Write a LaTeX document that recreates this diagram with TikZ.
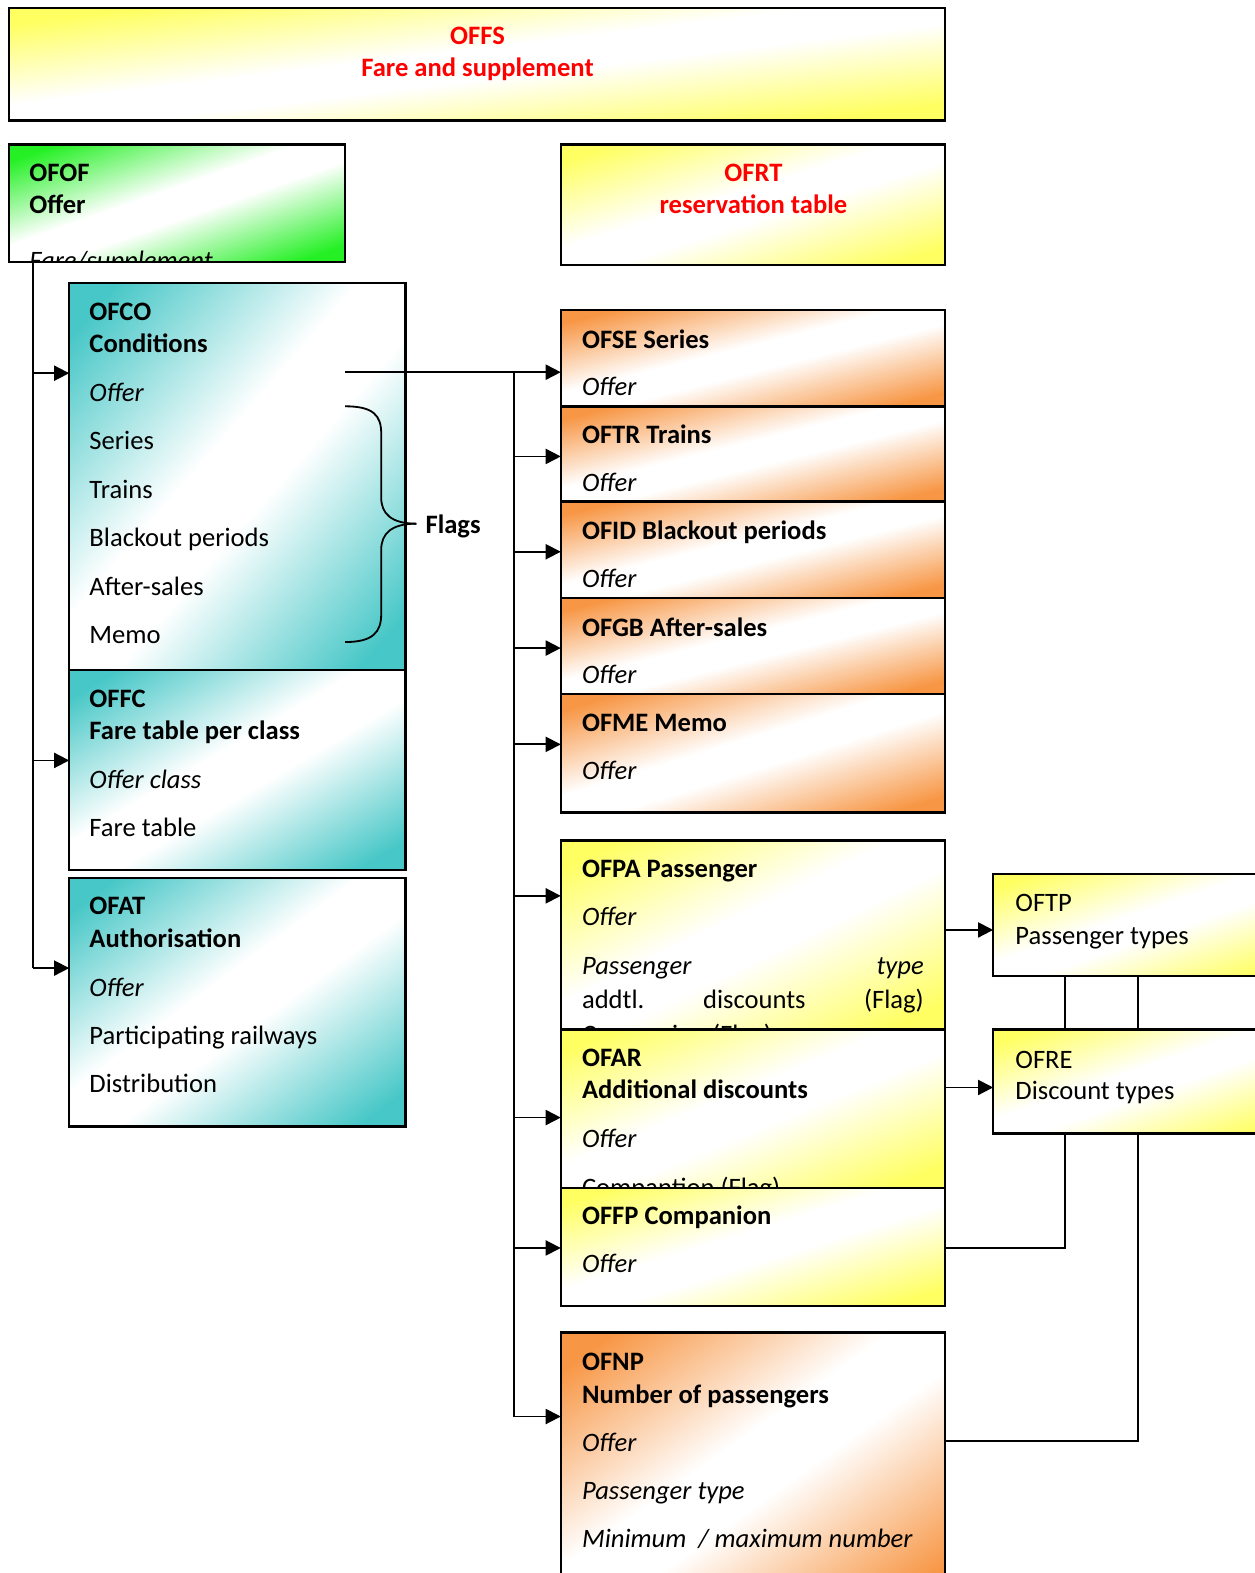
\documentclass[tikz,border=0pt]{standalone}
\usepackage{fontspec}
\setmainfont{Carlito}
\usetikzlibrary{arrows.meta}
\definecolor{cR}{RGB}{255,0,0}
% functional shadings: colour at top-left and bottom-right corners, white along the anti-diagonal
% path occupies 25..75 bp in x and y; d = |x-y|/100 in [0,0.5]
\pgfdeclarefunctionalshading{fsY}{\pgfpoint{0bp}{0bp}}{\pgfpoint{100bp}{100bp}}{}{
  sub abs 100 div 0.07 sub 0.36 div
  dup 0 lt {pop 0} if dup 1 gt {pop 1} if
  dup 0.0 mul 1 exch sub exch
  dup 0.0 mul 1 exch sub exch
  0.62 mul 1 exch sub
}
\pgfdeclarefunctionalshading{fsG}{\pgfpoint{0bp}{0bp}}{\pgfpoint{100bp}{100bp}}{}{
  sub abs 100 div 0.07 sub 0.36 div
  dup 0 lt {pop 0} if dup 1 gt {pop 1} if
  dup 0.86 mul 1 exch sub exch
  dup 0.06 mul 1 exch sub exch
  0.86 mul 1 exch sub
}
\pgfdeclarefunctionalshading{fsT}{\pgfpoint{0bp}{0bp}}{\pgfpoint{100bp}{100bp}}{}{
  sub abs 100 div 0.07 sub 0.36 div
  dup 0 lt {pop 0} if dup 1 gt {pop 1} if
  dup 0.72 mul 1 exch sub exch
  dup 0.22 mul 1 exch sub exch
  0.22 mul 1 exch sub
}
\pgfdeclarefunctionalshading{fsO}{\pgfpoint{0bp}{0bp}}{\pgfpoint{100bp}{100bp}}{}{
  sub abs 100 div 0.07 sub 0.36 div
  dup 0 lt {pop 0} if dup 1 gt {pop 1} if
  dup 0.03 mul 1 exch sub exch
  dup 0.41 mul 1 exch sub exch
  0.73 mul 1 exch sub
}
\tikzset{
  box/.style={draw=black, line width=2.5pt, anchor=north west, inner sep=0pt, outer sep=0pt, shade},
  yb/.style={box, shading=fsY},
  gb/.style={box, shading=fsG},
  tb/.style={box, shading=fsT},
  ob/.style={box, shading=fsO},
  txt/.style={anchor=base west, inner sep=0pt, font=\fontsize{26.5}{30}\selectfont},
  txb/.style={txt, font=\fontsize{26.5}{30}\selectfont\bfseries},
  txi/.style={txt, font=\fontsize{26.5}{30}\selectfont\itshape},
  txr/.style={anchor=base, inner sep=0pt, text=cR, font=\fontsize{26.5}{30}\selectfont\bfseries},
  conn/.style={line width=1.8pt},
  arr/.style={line width=1.8pt, -{Triangle[length=15pt,width=15pt]}},
}
\begin{document}
\begin{tikzpicture}[x=1pt,y=1pt]
\useasboundingbox (0,0) rectangle (1251,-1568);
\clip (0,0) rectangle (1251,-1568);

% ---------- OFFS ----------
\node[yb, minimum width=933pt, minimum height=112pt] (offs) at (9,-8) {};
\node[txr] (offs1) at (476,-44) {OFFS};
\node[txr] (offs2) at (476,-76) {Fare and supplement};

% ---------- OFOF ----------
\node[gb, minimum width=335pt, minimum height=117pt] (ofof) at (9,-144) {};
\node[txb] (ofof1) at (29,-181) {OFOF};
\node[txb] (ofof2) at (29,-213) {Offer};
\begin{scope}
\clip ([shift={(1.3,1.3)}]ofof.south west) rectangle ([shift={(-1.3,-1.3)}]ofof.north east);
\node[txi] (ofof3) at (29,-269) {Fare/supplement};
\end{scope}

% ---------- OFRT ----------
\node[yb, minimum width=383pt, minimum height=120pt] (ofrt) at (559,-144) {};
\node[txr] (ofrt1) at (751,-181) {OFRT};
\node[txr] (ofrt2) at (751,-213) {reservation table};

% ---------- OFCO ----------
\node[tb, minimum width=335pt, minimum height=386pt] (ofco) at (69,-282) {};
\node[txb] (ofco1) at (89,-319) {OFCO};
\node[txb] (ofco2) at (89,-351) {Conditions};
\node[txi] (ofco3) at (89,-400) {Offer};
\node[txt] (ofco4) at (89,-448) {Series};
\node[txt] (ofco5) at (89,-497) {Trains};
\node[txt] (ofco6) at (89,-545) {Blackout periods};
\node[txt] (ofco7) at (89,-594) {After-sales};
\node[txt] (ofco8) at (89,-641) {Memo};

% ---------- OFFC ----------
\node[tb, minimum width=335pt, minimum height=199pt] (offc) at (69,-668) {};
\node[txb] (offc1) at (89,-705) {OFFC};
\node[txb] (offc2) at (89,-737) {Fare table per class};
\node[txi] (offc3) at (89,-786) {Offer class};
\node[txt] (offc4) at (89,-834) {Fare table};

% ---------- OFAT ----------
\node[tb, minimum width=335pt, minimum height=248pt] (ofat) at (69,-875) {};
\node[txb] (ofat1) at (89,-912) {OFAT};
\node[txb] (ofat2) at (89,-944) {Authorisation};
\node[txi] (ofat3) at (89,-993) {Offer};
\node[txt] (ofat4) at (89,-1041) {Participating railways};
\node[txt] (ofat5) at (89,-1089) {Distribution};

% ---------- brace + Flags ----------
\draw[conn] (344,-405) .. controls (372,-405) and (380,-414) .. (380,-432) -- (380,-496)
  .. controls (380,-512) and (390,-522) .. (415,-522);
\draw[conn] (415,-522) .. controls (390,-522) and (380,-532) .. (380,-548) -- (380,-612)
  .. controls (380,-630) and (372,-640) .. (344,-640);
\node[txb] (flags) at (424,-532) {Flags};

% ---------- orange column ----------
\node[ob, minimum width=383pt, minimum height=96pt] (ofse) at (559,-309) {};
\node[txb] (ofse1) at (580,-347) {OFSE Series};
\node[txi] (ofse2) at (580,-394) {Offer};

\node[ob, minimum width=383pt, minimum height=95pt] (oftr) at (559,-405) {};
\node[txb] (oftr1) at (580,-442) {OFTR Trains};
\node[txi] (oftr2) at (580,-490) {Offer};

\node[ob, minimum width=383pt, minimum height=96pt] (ofid) at (559,-500) {};
\node[txb] (ofid1) at (580,-538) {OFID Blackout periods};
\node[txi] (ofid2) at (580,-586) {Offer};

\node[ob, minimum width=383pt, minimum height=96pt] (ofgb) at (559,-596) {};
\node[txb] (ofgb1) at (580,-634) {OFGB After-sales};
\node[txi] (ofgb2) at (580,-681) {Offer};

\node[ob, minimum width=383pt, minimum height=118pt] (ofme) at (559,-692) {};
\node[txb] (ofme1) at (580,-729) {OFME Memo};
\node[txi] (ofme2) at (580,-777) {Offer};

% ---------- yellow column ----------
\node[yb, minimum width=383pt, minimum height=188pt] (ofpa) at (559,-838) {};
\node[txb] (ofpa1) at (580,-875) {OFPA Passenger};
\node[txi] (ofpa2) at (580,-923) {Offer};
\node[txi] (ofpa3) at (580,-971) {Passenger};
\node[txi, anchor=base east] (ofpa4) at (921,-971) {type};
\node[txt] (ofpa5) at (580,-1005) {addtl.};
\node[txt, anchor=base] (ofpa6) at (752,-1005) {discounts};
\node[txt, anchor=base east] (ofpa7) at (921,-1005) {(Flag)};
\begin{scope}
\clip ([shift={(1.3,1.3)}]ofpa.south west) rectangle ([shift={(-1.3,-1.3)}]ofpa.north east);
\node[txt] (ofpa8) at (580,-1040) {Companion (Flag)};
\end{scope}

\node[yb, minimum width=383pt, minimum height=158pt] (ofar) at (559,-1026) {};
\node[txb] (ofar1) at (580,-1063) {OFAR};
\node[txb] (ofar2) at (580,-1095) {Additional discounts};
\node[txi] (ofar3) at (580,-1144) {Offer};
\begin{scope}
\clip ([shift={(1.3,1.3)}]ofar.south west) rectangle ([shift={(-1.3,-1.3)}]ofar.north east);
\node[txt] (ofar4) at (580,-1193) {Compantion (Flag)};
\end{scope}

\node[yb, minimum width=383pt, minimum height=118pt] (offp) at (559,-1184) {};
\node[txb] (offp1) at (580,-1221) {OFFP Companion};
\node[txi] (offp2) at (580,-1268) {Offer};

\node[ob, minimum width=383pt, minimum height=272pt] (ofnp) at (559,-1328) {};
\node[txb] (ofnp1) at (580,-1366) {OFNP};
\node[txb] (ofnp2) at (580,-1399) {Number of passengers};
\node[txi] (ofnp3) at (580,-1447) {Offer};
\node[txi] (ofnp4) at (580,-1495) {Passenger type};
\node[txi] (ofnp5) at (580,-1543) {Minimum\ \ / maximum number};

% ---------- right boxes ----------
\node[yb, minimum width=300pt, minimum height=102pt] (oftp) at (990,-871) {};
\node[txt] (oftp1) at (1012,-909) {OFTP};
\node[txt] (oftp2) at (1012,-941) {Passenger types};

\node[yb, minimum width=300pt, minimum height=104pt] (ofre) at (990,-1026) {};
\node[txt] (ofre1) at (1012,-1065) {OFRE};
\node[txt] (ofre2) at (1012,-1096) {Discount types};

% ---------- left connectors ----------
\coordinate (jL) at (33,-261);
\coordinate (jLend) at (33,-965);
\coordinate (ofco-in) at (69,-372);
\coordinate (offc-in) at (69,-758);
\coordinate (ofat-in) at (69,-965);
\draw[conn] (jL) -- (jLend);
\draw[arr] (jL |- ofco-in) -- (ofco-in);
\draw[arr] (jL |- offc-in) -- (offc-in);
\draw[arr] (jLend) -- (ofat-in);

% ---------- right trunk ----------
\coordinate (co-out) at (344,-371);
\coordinate (jR) at (512,-371);
\coordinate (jRend) at (512,-1412);
\coordinate (ofse-in) at (559,-371);
\coordinate (oftr-in) at (559,-455);
\coordinate (ofid-in) at (559,-550);
\coordinate (ofgb-in) at (559,-646);
\coordinate (ofme-in) at (559,-742);
\coordinate (ofpa-in) at (559,-893);
\coordinate (ofar-in) at (559,-1114);
\coordinate (offp-in) at (559,-1244);
\coordinate (ofnp-in) at (559,-1412);
\draw[arr] (co-out) -- (ofse-in);
\draw[conn] (jR) -- (jRend);
\draw[arr] (jR |- oftr-in) -- (oftr-in);
\draw[arr] (jR |- ofid-in) -- (ofid-in);
\draw[arr] (jR |- ofgb-in) -- (ofgb-in);
\draw[arr] (jR |- ofme-in) -- (ofme-in);
\draw[arr] (jR |- ofpa-in) -- (ofpa-in);
\draw[arr] (jR |- ofar-in) -- (ofar-in);
\draw[arr] (jR |- offp-in) -- (offp-in);
\draw[arr] (jRend) -- (ofnp-in);

% ---------- right side links ----------
\draw[arr] (ofpa.east |- 0,-927) -- (oftp.west |- 0,-927);
\draw[arr] (ofar.east |- 0,-1084) -- (ofre.west |- 0,-1084);
\coordinate (v1) at (1062,0);
\coordinate (v2) at (1134,0);
\draw[conn] (v1 |- oftp.south) -- (v1 |- ofre.north);
\draw[conn] (v2 |- oftp.south) -- (v2 |- ofre.north);
\draw[conn] (v1 |- ofre.south) |- (offp.east |- 0,-1244);
\draw[conn] (v2 |- ofre.south) |- (ofnp.east |- 0,-1436);
\end{tikzpicture}
\end{document}
